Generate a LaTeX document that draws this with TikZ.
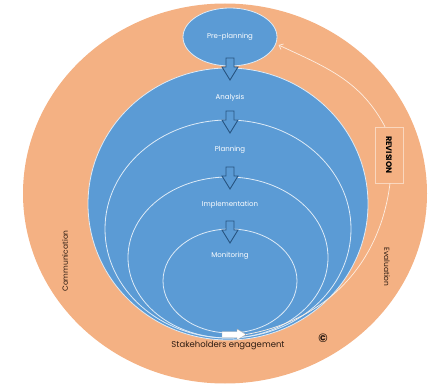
\documentclass[tikz,border=0pt]{standalone}
\usepackage{fontspec}
\setmainfont{Poppins}
\usetikzlibrary{arrows.meta,shapes.geometric,calc}
\definecolor{ringorange}{RGB}{244,177,131}
\definecolor{cycblue}{RGB}{91,155,213}
\definecolor{edgeblue}{RGB}{222,235,247}
\definecolor{arrowblue}{RGB}{40,85,130}
\definecolor{darktext}{RGB}{45,28,18}
\definecolor{revline}{RGB}{253,238,226}
\definecolor{revbox}{RGB}{250,215,190}
\begin{document}
\begin{tikzpicture}[x=1pt,y=1pt,
  ringline/.style={ellipse, draw=edgeblue, line width=0.8pt, inner sep=0pt},
  steplabel/.style={text=white, font=\fontsize{7}{8}\selectfont, inner sep=0pt},
  ringlabel/.style={text=darktext, font=\fontsize{7.5}{9}\selectfont, inner sep=0pt},
  arrowline/.style={draw=arrowblue, fill=cycblue, line width=0.9pt, line join=miter},
  downarrow/.pic={\path[arrowline] (-4,11) -- (4,11) -- (4,2) -- (8,2) -- (0,-11) -- (-8,2) -- (-4,2) -- cycle;},
  revpath/.style={draw=revline, line width=0.7pt}
]
\useasboundingbox (0,0) rectangle (434,386);
% outer ring
\node[ellipse, fill=ringorange, minimum width=404pt, minimum height=380pt, inner sep=0pt] (outer) at (225,192.5) {};
% big blue
\node[ellipse, fill=cycblue, draw=edgeblue, line width=0.8pt, minimum width=280pt, minimum height=272pt, inner sep=0pt] (big) at (228,182) {};
% inner ellipses
\node[ringline, minimum width=246pt, minimum height=218pt] (plan) at (228,157) {};
\node[ringline, minimum width=200pt, minimum height=161pt] (impl) at (228,128.5) {};
\node[ringline, minimum width=134pt, minimum height=104pt] (mon) at (230,105) {};
% pre-planning
\node[ellipse, fill=cycblue, draw=edgeblue, line width=0.8pt, minimum width=94pt, minimum height=58pt, inner sep=0pt] (pre) at (230,349) {};
% labels
\node[steplabel] (lpre) at (230,349) {Pre-planning};
\node[steplabel] (lana) at (230,288) {Analysis};
\node[steplabel] (lpla) at (230,236) {Planning};
\node[steplabel] (limp) at (230,181) {Implementation};
\node[steplabel] (lmon) at (230,130) {Monitoring};
% down arrows
\pic at (230,317) {downarrow};
\pic at (230,264) {downarrow};
\pic at (230,208) {downarrow};
\pic at (230,154) {downarrow};
% stakeholder arrow
\path[draw=gray!60, fill=white, line width=0.4pt] (222,48.5) -- (237,48.5) -- (237,46) -- (246,51.5) -- (237,57) -- (237,54.5) -- (222,54.5) -- cycle;
\coordinate (sa) at (246,51.5);
\node[ringlabel, font=\fontsize{8.5}{10}\selectfont] (lstk) at (228,40) {Stakeholders engagement};
% revision
\node[draw=revbox, line width=0.6pt, minimum width=28pt, minimum height=56pt, inner sep=0pt] (rev) at (389,231) {};
\node[rotate=-90, text=black, font=\bfseries\fontsize{8}{9}\selectfont, inner sep=0pt] (lrev) at (rev.center) {REVISION};
\draw[revpath] (sa) to[out=10,in=-97] ($(rev.south)+(1,0)$);
\draw[revpath, -{Straight Barb[length=3.5pt,width=6pt]}] ($(rev.north)+(-4,0)$) to[out=118,in=-25] ($(pre.-10)+(3,0)$);
% side labels
\node[ringlabel, rotate=90] (lcom) at (65,125) {Communication};
\node[ringlabel, rotate=-90] (leva) at (387,119) {Evaluation};
\node[text=darktext, font=\bfseries\fontsize{12}{12}\selectfont, inner sep=0pt] (copy) at (323,48) {©};
\end{tikzpicture}
\end{document}
